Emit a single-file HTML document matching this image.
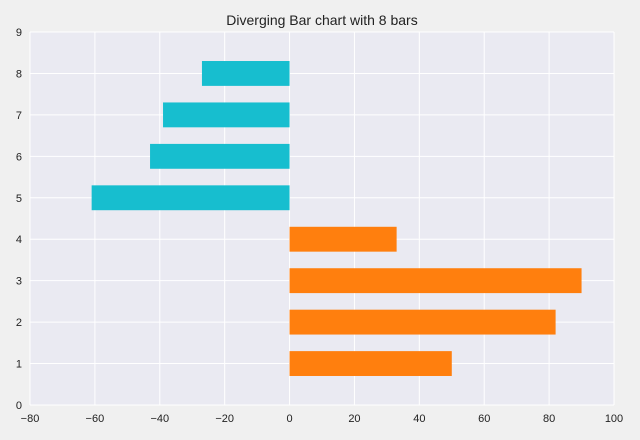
<!DOCTYPE html>
<html><head><meta charset="utf-8"><style>
body{margin:0;background:#f0f0f0;}
svg{display:block;font-family:"Liberation Sans",sans-serif;}
</style></head><body>
<svg id="chart" width="640" height="440">
<rect width="640" height="440" fill="#f0f0f0"/>
<text x="322" y="25" text-anchor="middle" font-size="14" fill="#222">Diverging Bar chart with 8 bars</text>
<rect x="30" y="32" width="584" height="373" fill="#eaeaf2"/>
<g id="grid"></g><g id="bars"></g><g id="ticks"></g>
</svg>
<script>
const positions = [1,2,3,4,5,6,7,8];
const values = [50,82,90,33,-61,-43,-39,-27];
const xTicks = [-80,-60,-40,-20,0,20,40,60,80,100];
const yTicks = [0,1,2,3,4,5,6,7,8,9];
const x0=30,x1=614,y0=405,y1=32;
function xs(v){return x0+(v-(-80))/(180)*(x1-x0);}
function ys(v){return y0-(v/9)*(y0-y1);}
const NS="http://www.w3.org/2000/svg";
function mk(t,a,p){const e=document.createElementNS(NS,t);for(const k in a)e.setAttribute(k,a[k]);p.appendChild(e);return e;}
const grid=document.getElementById('grid'),bars=document.getElementById('bars'),ticks=document.getElementById('ticks');
xTicks.forEach(v=>{
 const l=mk('line',{x1:xs(v),x2:xs(v),y1:y1,y2:y0,stroke:'#fff','stroke-width':1},grid);
 
 
 const t=mk('text',{x:xs(v),y:y0+17,'text-anchor':'middle','font-size':11,fill:'#222'},ticks);
 t.textContent=(v<0?'\u2212'+(-v):v);
 
 
});
yTicks.forEach(v=>{
 const l=mk('line',{x1:x0,x2:x1,y1:ys(v),y2:ys(v),stroke:'#fff','stroke-width':1},grid);
 
 
 const t=mk('text',{x:x0-8,y:ys(v)+4,'text-anchor':'end','font-size':11,fill:'#222'},ticks);
 t.textContent=v;
 
 
});
const bh=0.6;
positions.forEach((p,i)=>{
 const v=values[i];
 const xa=Math.min(xs(0),xs(v)),w=Math.abs(xs(v)-xs(0));
 const r=mk('rect',{x:xa,y:ys(p+bh/2),width:w,height:ys(p-bh/2)-ys(p+bh/2),fill:v<0?'#17becf':'#ff7f0e'},bars);
 
 
});
</script>
</body></html>
